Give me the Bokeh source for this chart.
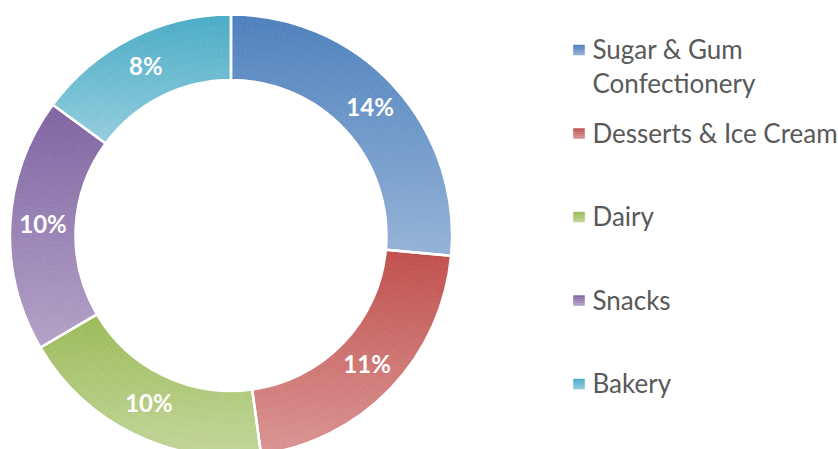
import math
import numpy as np
from bokeh.plotting import figure
from bokeh.models import ColumnDataSource, Range1d
from bokeh.core.properties import value
from bokeh.embed import file_html
from bokeh.resources import INLINE

# ---------------- data ----------------
categories = ["Sugar & Gum Confectionery", "Desserts & Ice Cream", "Dairy", "Snacks", "Bakery"]
legend_lines = [["Sugar & Gum", "Confectionery"], ["Desserts & Ice Cream"], ["Dairy"], ["Snacks"], ["Bakery"]]
values = [14.0, 11.3, 9.9, 9.8, 7.9]   # shares in %
pct_labels = ["%d%%" % round(v) for v in values]
top_colors = ["#4F81BD", "#C0504D", "#9BBB59", "#8064A2", "#4BACC6"]
bottom_colors = ["#95B3D7", "#DA9694", "#C3D69B", "#B3A2C7", "#93CDDD"]

# ---------------- layout (canvas px, y up) ----------------
W, H = 838, 449
CX, CY = 230.5, H - 235
R_OUT, R_IN = 221, 155.5
TEXT_FIX = 9.5  # baseline compensation for svg text placement


def hex2rgb(h):
    h = h.lstrip("#")
    return [int(h[i:i + 2], 16) for i in (0, 2, 4)]


def mix(c1, c2, t):
    a, b = hex2rgb(c1), hex2rgb(c2)
    t = min(max(t, 0.0), 1.0)
    return "#%02x%02x%02x" % tuple(int(round(a[i] + (b[i] - a[i]) * t)) for i in range(3))


p = figure(width=W, height=H, x_range=Range1d(0, W), y_range=Range1d(0, H),
           output_backend="svg", toolbar_location=None, min_border=0)
p.axis.visible = False
p.grid.visible = False
p.outline_line_color = None
p.background_fill_color = "white"
p.border_fill_color = "white"

total = float(sum(values))
starts, ends = [], []
a = math.pi / 2
for v in values:
    span = 2 * math.pi * v / total
    starts.append(a - span)
    ends.append(a)
    a -= span

# gradient pieces
px, py, pr_in, pr_out, pa0, pa1, pcol = [], [], [], [], [], [], []
N_R = 6
for i in range(len(values)):
    a0, a1 = starts[i], ends[i]
    ang = np.linspace(a0, a1, 400)
    ys = np.concatenate([CY + R_OUT * np.sin(ang), CY + R_IN * np.sin(ang)])
    ytop, ybot = ys.max(), ys.min()
    n_a = max(2, int(math.ceil(math.degrees(a1 - a0) / 1.5)))
    aedges = np.linspace(a0, a1, n_a + 1)
    redges = np.linspace(R_IN, R_OUT, N_R + 1)
    for j in range(n_a):
        for k in range(N_R):
            am = 0.5 * (aedges[j] + aedges[j + 1])
            rm = 0.5 * (redges[k] + redges[k + 1])
            yc = CY + rm * math.sin(am)
            t = (ytop - yc) / (ytop - ybot)
            px.append(CX); py.append(CY)
            pr_in.append(redges[k]); pr_out.append(redges[k + 1])
            pa0.append(aedges[j]); pa1.append(aedges[j + 1])
            pcol.append(mix(top_colors[i], bottom_colors[i], t))

src_pieces = ColumnDataSource(dict(x=px, y=py, ri=pr_in, ro=pr_out, a0=pa0, a1=pa1, c=pcol))
p.annular_wedge(x="x", y="y", inner_radius="ri", outer_radius="ro", start_angle="a0", end_angle="a1",
                fill_color="c", line_color="c", line_width=0.7, source=src_pieces)

# slice outlines (white separators)
src_sl = ColumnDataSource(dict(x=[CX] * len(values), y=[CY] * len(values), a0=starts, a1=ends, cat=categories))
p.annular_wedge(x="x", y="y", inner_radius=R_IN, outer_radius=R_OUT, start_angle="a0", end_angle="a1",
                fill_alpha=0, line_color="white", line_width=2.5, source=src_sl)

# percentage labels
rm = 0.5 * (R_IN + R_OUT)
lx, ly = [], []
for i in range(len(values)):
    am = 0.5 * (starts[i] + ends[i])
    lx.append(CX + rm * math.cos(am))
    ly.append(CY + rm * math.sin(am) - 9 + TEXT_FIX + 2)
p.text(x=lx, y=ly, text=pct_labels, text_font=value("Lato"), text_font_size="24px",
       text_font_style="bold", text_color="white", text_align="center", text_baseline="alphabetic")

# legend
LEG_X_MARK = 573
LEG_X_TEXT = 592
BASE0 = H - 58
STEP = 83.5
LINE_H = 34
mk_l, mk_r, mk_b, mk_t, mk_c = [], [], [], [], []
tx, ty, tt = [], [], []
for i, lines in enumerate(legend_lines):
    base = BASE0 - i * STEP
    for li, s in enumerate(lines):
        tx.append(LEG_X_TEXT); ty.append(base - li * LINE_H + TEXT_FIX); tt.append(s)
    mc = base + 8.5
    nstr = 5
    for s in range(nstr):
        y1 = mc + 5 - s * 10.0 / nstr
        y0 = y1 - 10.0 / nstr
        mk_l.append(LEG_X_MARK); mk_r.append(LEG_X_MARK + 11)
        mk_b.append(y0); mk_t.append(y1)
        mk_c.append(mix(top_colors[i], bottom_colors[i], (s + 0.5) / nstr))
p.quad(left=mk_l, right=mk_r, bottom=mk_b, top=mk_t, fill_color=mk_c, line_color=mk_c, line_width=0.5)
p.text(x=tx, y=ty, text=tt, text_font=value("Lato"), text_font_size="26px",
       text_color="#595959", text_align="left", text_baseline="alphabetic")

open("out.html", "w").write(file_html(p, INLINE))
